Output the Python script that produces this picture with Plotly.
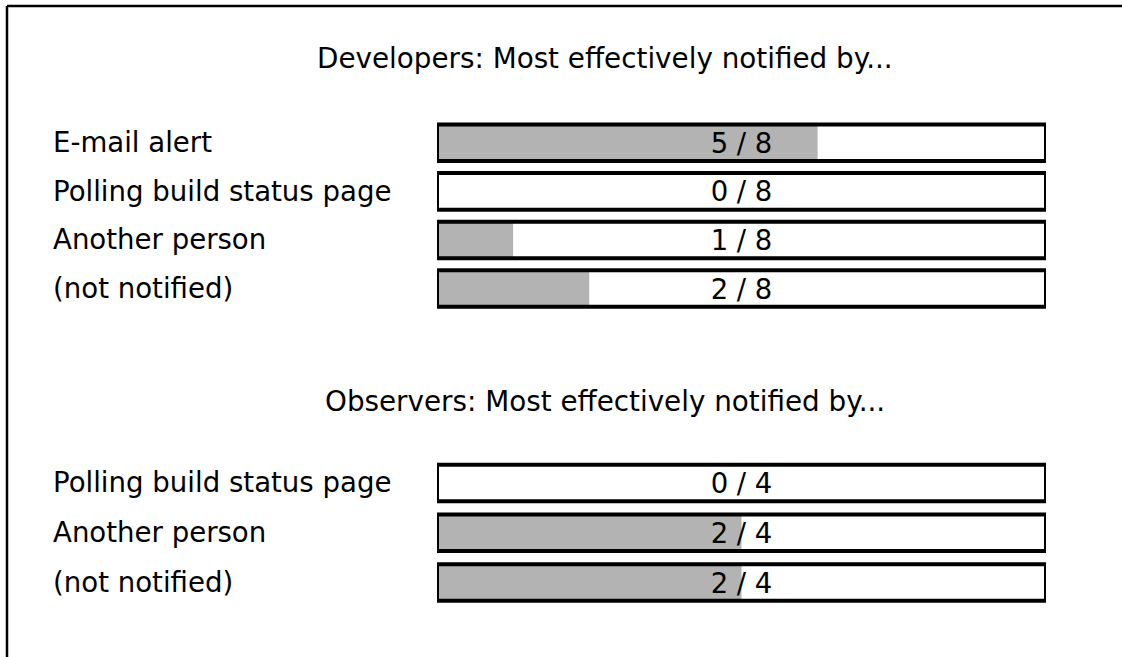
import plotly.graph_objects as go

W, H = 1122, 657
FONT = "DejaVu Sans"

# Datos
dev_title = "Developers: Most effectively notified by..."
dev_labels = ["E-mail alert", "Polling build status page", "Another person", "(not notified)"]
dev_counts = [5, 0, 1, 2]
dev_total = 8

obs_title = "Observers: Most effectively notified by..."
obs_labels = ["Polling build status page", "Another person", "(not notified)"]
obs_counts = [0, 2, 2]
obs_total = 4

FILL_GRAY = "#b3b3b3"


def add_group(fig, labels, counts, total, xa, ya, width):
    """Caixa branca, preenchimento cinza e contorno com o texto k / n"""
    n = len(labels)
    fracs = [c / total for c in counts]
    textos = [f"{c} / {total}" for c in counts]

    fig.add_trace(go.Bar(
        x=[1] * n, y=labels, orientation="h", xaxis=xa, yaxis=ya,
        width=width, marker=dict(color="white", line=dict(width=0)),
        hoverinfo="skip", showlegend=False
    ))
    fig.add_trace(go.Bar(
        x=fracs, y=labels, orientation="h", xaxis=xa, yaxis=ya,
        width=width, marker=dict(color=FILL_GRAY, line=dict(width=0)),
        hoverinfo="skip", showlegend=False
    ))
    fig.add_trace(go.Bar(
        x=[1] * n, y=labels, orientation="h", xaxis=xa, yaxis=ya,
        width=width,
        marker=dict(color="rgba(0,0,0,0)", line=dict(color="black", width=4)),
        text=textos, textposition="inside", insidetextanchor="middle",
        textangle=0, constraintext="none",
        textfont=dict(family=FONT, size=27.5, color="black"),
        hoverinfo="skip", showlegend=False
    ))

    for lab in labels:
        fig.add_annotation(
            text=lab, x=51 / W, xref="paper", xanchor="left",
            y=lab, yref=ya, yanchor="middle", showarrow=False,
            font=dict(family=FONT, size=27.6, color="black")
        )


fig = go.Figure()
add_group(fig, dev_labels, dev_counts, dev_total, "x", "y", 0.753)
add_group(fig, obs_labels, obs_counts, obs_total, "x2", "y2", 0.736)

# Titulos
for texto, ypix in [(dev_title, 58), (obs_title, 401)]:
    fig.add_annotation(
        text=texto, x=605 / W, y=1 - ypix / H, xref="paper", yref="paper",
        xanchor="center", yanchor="middle", showarrow=False,
        font=dict(family=FONT, size=27.8, color="black")
    )

# Moldura (esquerda e topo)
fig.add_shape(type="line", xref="paper", yref="paper",
              x0=7 / W, x1=7 / W, y0=0, y1=1 - 6 / H,
              line=dict(color="black", width=2.5))
fig.add_shape(type="line", xref="paper", yref="paper",
              x0=7 / W, x1=1, y0=1 - 6 / H, y1=1 - 6 / H,
              line=dict(color="black", width=2.5))

x_dom = [437 / W, 1046 / W]
eixo_x = dict(range=[0, 1], visible=False, fixedrange=True)
eixo_y = dict(type="category", autorange="reversed", visible=False, fixedrange=True)

fig.update_layout(
    width=W, height=H,
    margin=dict(l=0, r=0, t=0, b=0, pad=0),
    paper_bgcolor="white", plot_bgcolor="rgba(0,0,0,0)",
    barmode="overlay",
    font=dict(family=FONT, color="black"),
    xaxis=dict(domain=x_dom, anchor="y", **eixo_x),
    yaxis=dict(domain=[1 - 312.8 / H, 1 - 118.5 / H], anchor="x", **eixo_y),
    xaxis2=dict(domain=x_dom, anchor="y2", **eixo_x),
    yaxis2=dict(domain=[1 - 607.4 / H, 1 - 458.1 / H], anchor="x2", **eixo_y),
    showlegend=False
)

# tirar a margem padrao do body para a figura ficar em (0, 0)
fig.write_html(
    "out.html",
    config={"displayModeBar": False},
    post_script="document.body.style.margin='0';document.body.style.overflow='hidden';"
)
